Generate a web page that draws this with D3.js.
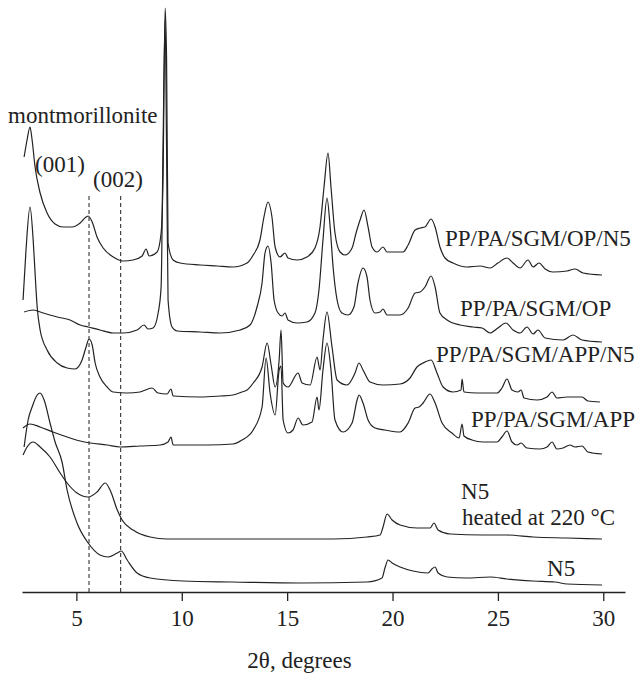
<!DOCTYPE html>
<html>
<head>
<meta charset="utf-8">
<script src="https://cdn.jsdelivr.net/npm/d3@7"></script>
<style>
  html, body { margin: 0; padding: 0; background: #fff; }
  svg { display: block; }
  text { font-family: "Liberation Serif", "Times New Roman", serif; fill: #222; }
</style>
</head>
<body>
<svg id="chart" width="639" height="677"></svg>
<script>
// ---- Data (2θ in degrees, intensity in arbitrary stacked units) ----
const seriesNames = ["PP/PA/SGM/OP/N5", "PP/PA/SGM/OP", "PP/PA/SGM/APP/N5", "PP/PA/SGM/APP", "N5 heated at 220 °C", "N5"];

const opN5 = [[2.52,435],[2.66,452],[2.80,465],[2.90,452],[3.04,425],[3.28,399],[3.61,379],[3.99,368],[4.37,365],[4.80,365],[5.18,369],[5.46,375],[5.56,376],[5.75,370],[5.98,355],[6.27,344],[6.75,335],[7.22,331],[7.69,332],[8.12,336],[8.31,343],[8.45,336],[8.83,340],[9.02,359],[9.11,412],[9.21,584],[9.28,532],[9.35,349],[9.59,332],[9.92,329],[10.87,327],[11.68,326],[12.43,325],[13.10,329],[13.39,337],[13.71,352],[13.90,375],[14.09,390],[14.28,375],[14.43,345],[14.66,335],[14.90,339],[15.04,334],[15.47,332],[15.94,335],[16.32,344],[16.56,365],[16.75,405],[16.94,439],[17.08,405],[17.27,359],[17.51,340],[17.75,337],[18.08,344],[18.27,359],[18.46,372],[18.65,382],[18.84,365],[19.03,345],[19.27,340],[19.55,345],[19.74,340],[20.21,340],[20.50,340],[20.74,347],[21.07,362],[21.31,364],[21.54,365],[21.83,373],[22.02,365],[22.25,345],[22.49,334],[22.87,329],[23.53,325],[24.15,326],[24.63,324],[25.00,329],[25.43,334],[25.72,329],[26.05,324],[26.43,332],[26.67,325],[26.95,329],[27.24,323],[27.61,320],[28.28,321],[28.66,323],[29.04,319],[29.94,317]];

const op = [[2.52,280],[2.95,282],[3.42,279],[4.09,275],[4.70,272],[5.18,267],[5.56,265],[6.12,262],[6.75,259],[7.22,259],[7.88,262],[8.21,267],[8.40,263],[8.64,264],[8.88,279],[9.02,305],[9.11,442],[9.21,572],[9.28,442],[9.35,292],[9.54,265],[9.78,261],[10.87,260],[11.82,259],[12.77,262],[13.24,267],[13.57,285],[13.81,309],[13.95,339],[14.09,346],[14.24,329],[14.38,292],[14.57,279],[14.76,276],[14.90,279],[15.04,272],[15.47,269],[15.94,270],[16.32,279],[16.51,302],[16.70,352],[16.89,394],[17.04,365],[17.18,325],[17.37,292],[17.60,279],[17.89,277],[18.17,285],[18.36,309],[18.60,324],[18.79,315],[18.93,292],[19.17,279],[19.41,280],[19.55,283],[19.74,277],[20.36,277],[20.74,284],[21.07,299],[21.31,300],[21.54,305],[21.83,316],[22.02,305],[22.25,279],[22.59,272],[23.20,267],[23.82,265],[24.25,264],[24.63,259],[25.00,264],[25.38,269],[25.72,262],[26.05,259],[26.38,265],[26.67,258],[26.90,262],[27.24,254],[28.09,252],[28.56,257],[28.99,252],[29.94,250]];

const appN5 = [[2.47,292],[2.61,342],[2.80,385],[2.95,352],[3.04,319],[3.14,285],[3.28,262],[3.61,242],[4.09,229],[4.56,224],[4.94,223],[5.27,232],[5.46,245],[5.60,253],[5.75,247],[5.89,229],[6.12,215],[6.46,205],[6.75,200],[7.41,199],[8.02,200],[8.59,204],[8.88,199],[9.30,198],[9.49,203],[9.59,196],[10.87,195],[11.82,196],[12.43,197],[12.86,200],[13.10,202],[13.39,209],[13.81,225],[14.05,249],[14.24,227],[14.43,205],[14.62,232],[14.71,262],[14.81,209],[15.04,205],[15.52,219],[15.71,209],[16.09,207],[16.42,235],[16.56,222],[16.70,252],[16.89,280],[17.13,245],[17.37,212],[17.84,207],[18.22,219],[18.41,229],[18.60,222],[18.93,210],[19.55,207],[20.36,208],[20.83,214],[21.16,225],[21.45,229],[21.83,232],[22.11,219],[22.40,205],[22.87,200],[23.25,202],[23.30,213],[23.39,200],[24.01,199],[24.96,199],[25.19,204],[25.43,213],[25.67,202],[25.95,200],[26.10,202],[26.24,194],[26.86,192],[27.33,195],[27.57,200],[27.80,194],[28.28,195],[28.56,195],[28.99,195],[29.27,191],[29.84,190]];

const app = [[2.47,164],[2.80,168],[3.28,165],[3.89,160],[4.56,155],[5.18,151],[5.65,149],[6.46,147],[7.08,145],[8.02,146],[8.97,147],[9.35,150],[9.49,155],[9.59,147],[10.25,147],[11.20,147],[12.43,148],[12.86,152],[13.39,162],[13.81,185],[14.00,234],[14.19,199],[14.43,177],[14.62,222],[14.71,226],[14.81,172],[15.04,159],[15.28,162],[15.52,174],[15.75,167],[16.18,170],[16.42,195],[16.51,182],[16.70,222],[16.89,249],[17.08,222],[17.27,172],[17.65,160],[18.08,169],[18.32,192],[18.41,197],[18.60,189],[18.84,172],[19.17,164],[19.64,162],[20.36,160],[20.74,169],[21.07,184],[21.26,185],[21.45,189],[21.78,198],[22.02,189],[22.35,169],[22.82,159],[23.16,154],[23.30,168],[23.39,156],[23.77,152],[24.29,150],[24.96,150],[25.19,155],[25.43,161],[25.67,150],[25.91,147],[26.10,149],[26.38,144],[27.00,143],[27.33,145],[27.57,150],[27.80,143],[28.09,144],[28.42,147],[28.66,145],[28.99,146],[29.27,140],[29.94,138]];

const n5Heated = [[2.47,137],[2.66,145],[2.95,150],[3.28,145],[3.75,135],[4.23,119],[4.56,109],[5.03,99],[5.56,95],[5.98,100],[6.37,109],[6.60,102],[6.94,82],[7.17,72],[7.69,62],[8.50,55],[9.30,53],[10.87,53],[15.61,53],[17.18,53],[18.79,55],[19.41,57],[19.55,65],[19.74,78],[19.98,72],[20.36,67],[21.16,64],[21.78,64],[21.97,69],[22.16,62],[22.73,58],[24.29,57],[25.43,57],[26.67,55],[28.28,54],[29.94,53]];

const n5 = [[2.52,145],[2.71,172],[2.90,185],[3.14,197],[3.28,199],[3.47,192],[3.75,169],[3.99,150],[4.32,130],[4.56,102],[5.03,69],[5.56,49],[6.12,37],[6.51,35],[6.94,39],[7.13,41],[7.41,32],[7.88,19],[8.50,14],[10.06,11],[12.43,10],[15.61,9],[18.79,10],[19.50,14],[19.64,24],[19.79,32],[19.98,29],[20.36,25],[20.97,21],[21.68,19],[21.87,23],[22.02,25],[22.16,19],[22.59,15],[23.53,14],[24.63,15],[25.43,13],[26.67,11],[27.71,10],[28.28,8],[29.94,7]];

const xTicks = [5, 10, 15, 20, 25, 30];
const dashedAt = [5.6, 7.1];          // montmorillonite (001), (002) reflections
const dashedTop = 396;                // intensity where the guide lines begin
const xTitle = "2θ, degrees";

// label texts and anchors (2θ, intensity)
const labelTexts = ["montmorillonite", "(001)", "(002)", "PP/PA/SGM/OP/N5", "PP/PA/SGM/OP", "PP/PA/SGM/APP/N5", "PP/PA/SGM/APP", "N5", "heated at 220 °C", "N5"];
const labelTheta = [1.76, 3.04, 5.79, 22.49, 23.20, 22.06, 23.72, 23.25, 23.30, 27.33];
const labelInt   = [469, 420, 405, 346, 276, 230, 165, 93, 67, 16];

// ---- Drawing ----
const svg = d3.select("#chart");
const x = d3.scaleLinear().domain([2.42, 31.03]).range([22, 625]);
const y = d3.scaleLinear().domain([0, 584]).range([592, 8]);

const line = d3.line().x(d => x(d[0])).y(d => y(d[1])).curve(d3.curveMonotoneX);

const allSeries = [opN5, op, appN5, app, n5Heated, n5];
svg.append("g").selectAll("path").data(allSeries).join("path")
  .attr("d", line)
  .attr("fill", "none")
  .attr("stroke", "#222")
  .attr("stroke-width", 1.2)
  .attr("stroke-linejoin", "round");

// dashed guide lines
svg.append("g").selectAll("line").data(dashedAt).join("line")
  .attr("x1", d => x(d)).attr("x2", d => x(d))
  .attr("y1", y(dashedTop)).attr("y2", y(0))
  .attr("stroke", "#333").attr("stroke-width", 1.1)
  .attr("stroke-dasharray", "4,3");

// x axis
const axis = d3.axisBottom(x).tickValues(xTicks).tickSize(9).tickSizeOuter(0).tickPadding(9);
const gx = svg.append("g").attr("transform", `translate(0,${y(0)})`).call(axis);
gx.select(".domain").attr("stroke", "#222").attr("stroke-width", 1.3);
gx.selectAll(".tick line").attr("stroke", "#222").attr("stroke-width", 1.3);
gx.selectAll(".tick text").attr("font-family", "Liberation Serif, serif").attr("font-size", 23).attr("fill", "#222");

svg.append("text")
  .attr("x", (x(2.42) + x(31.03)) / 2 - 24)
  .attr("y", 668)
  .attr("text-anchor", "middle")
  .attr("font-size", 23)
  .text(xTitle);

// labels
svg.append("g").selectAll("text").data(labelTexts).join("text")
  .attr("x", (d, i) => x(labelTheta[i]))
  .attr("y", (d, i) => y(labelInt[i]))
  .attr("font-size", 23)
  .text(d => d);
</script>
</body>
</html>
